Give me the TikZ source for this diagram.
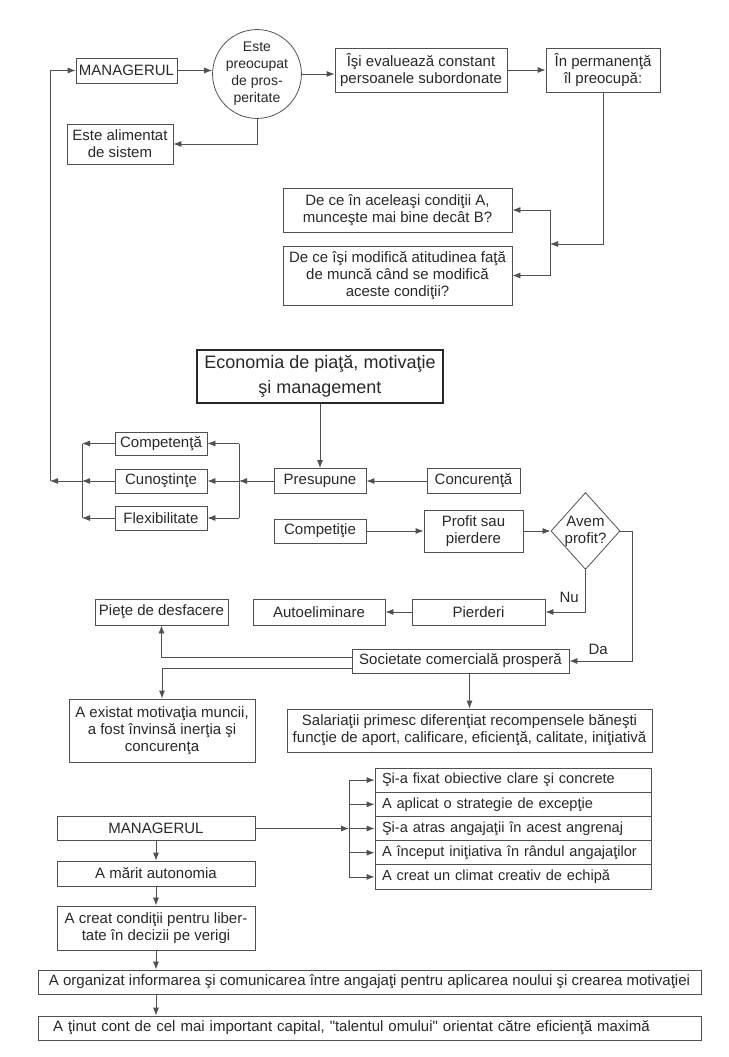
\documentclass[tikz,border=0pt]{standalone}
\usepackage{fontspec}
\setmainfont{Liberation Sans}
\usepackage{tikz}
\usetikzlibrary{shapes.geometric,arrows.meta,positioning,calc}
\usepackage{xcolor}
\definecolor{edge}{RGB}{80,80,80}
\definecolor{ink}{RGB}{40,40,40}
\newcommand{\straightquote}{\XeTeXglyph\XeTeXglyphindex "quotedbl"\relax}

\begin{document}
\begin{tikzpicture}[
    x=1pt, y=-1pt,
    every node/.style={text=ink, font=\fontsize{15pt}{17pt}\selectfont},
    box/.style={rectangle, draw=edge, line width=0.8pt, align=center, inner sep=2pt},
    rowbox/.style={box, align=left, text width=262pt, inner xsep=7pt, inner ysep=0pt, minimum height=24.2pt,
                   font=\fontsize{14.6pt}{17pt}\selectfont},
    arrow/.style={-{Latex[length=8pt,width=6pt]}, draw=edge, line width=0.8pt},
    line/.style={draw=edge, line width=0.8pt}
]
    \useasboundingbox (0,0) rectangle (728,1057);

    \node[box, minimum width=101pt, minimum height=25pt] (mgr1) at (126.5,70.5) {MANAGERUL};
    \node[draw=edge, line width=0.8pt, circle, minimum size=88pt, inner sep=0pt, align=center,
          font=\fontsize{14pt}{17pt}\selectfont] (circ) at (257,74) {Este\\preocupat\\de pros-\\peritate};
    \node[box, minimum width=106pt, minimum height=40pt] (alim) at (120,144) {Este alimentat\\de sistem};
    \node[box, minimum width=172pt, minimum height=44pt] (eval) at (421,70) {Îşi evaluează constant\\persoanele subordonate};
    \node[box, minimum width=114pt, minimum height=44pt] (perm) at (603,70) {În permanenţă\\îl preocupă:};
    \node[box, minimum width=229pt, minimum height=44pt] (q1) at (397.5,210) {De ce în aceleaşi condiţii A,\\munceşte mai bine decât B?};
    \node[box, minimum width=229pt, minimum height=59pt] (q2) at (397.5,275.5) {De ce îşi modifică atitudinea faţă\\de muncă când se modifică\\aceste condiţii?};

    \node[box, draw=ink, line width=2pt, minimum width=246pt, minimum height=53pt,
          font=\fontsize{18pt}{25pt}\selectfont] (title) at (320,376.5) {Economia de piaţă, motivaţie\\şi management};

    \node[box, minimum width=92pt, minimum height=23pt] (comp) at (161,443.5) {Competenţă};
    \node[box, minimum width=92pt, minimum height=24pt] (cuno) at (161,481) {Cunoştinţe};
    \node[box, minimum width=92pt, minimum height=24pt] (flex) at (161,518) {Flexibilitate};
    \node[box, minimum width=92pt, minimum height=25pt] (pres) at (320,481) {Presupune};
    \node[box, minimum width=93pt, minimum height=25pt] (conc) at (473.5,481) {Concurenţă};

    \node[box, minimum width=92pt, minimum height=24pt] (compt) at (320,531) {Competiţie};
    \node[box, minimum width=99pt, minimum height=42pt] (prof) at (473.5,531) {Profit sau\\pierdere};
    \node[draw=edge, line width=0.8pt, diamond, aspect=0.9, inner sep=0pt, minimum width=69pt,
          minimum height=77pt, align=center] (avem) at (585.5,531) {Avem\\profit?};
    \node[box, minimum width=133pt, minimum height=26pt] (pierd) at (478.5,612) {Pierderi};
    \node[box, minimum width=132pt, minimum height=26pt] (auto) at (319,612) {Autoeliminare};
    \node[box, minimum width=133pt, minimum height=26pt] (piete) at (161.5,612) {Pieţe de desfacere};
    \node[box, minimum width=217pt, minimum height=24pt] (soc) at (460.5,661) {Societate comercială prosperă};
    \node[box, minimum width=186pt, minimum height=63pt] (exist) at (162,730.5) {A existat motivaţia muncii,\\a fost învinsă inerţia şi\\concurenţa};
    \node[box, minimum width=365pt, minimum height=43pt] (sal) at (469.5,730.5) {Salariaţii primesc diferenţiat recompensele băneşti\\funcţie de aport, calificare, eficienţă, calitate, iniţiativă};

    \foreach \txt [count=\i] in {Şi-a fixat obiective clare şi concrete, A aplicat o strategie de excepţie,
        Şi-a atras angajaţii în acest angrenaj, A început iniţiativa în rândul angajaţilor,
        A creat un climat creativ de echipă}
        \node[rowbox] (r\i) at (513,{780.1+24.2*(\i-1)}) {\txt};

    \node[box, minimum width=198pt, minimum height=24pt] (mgr2) at (156,828.5) {MANAGERUL};
    \node[box, minimum width=198pt, minimum height=25pt] (marit) at (156,873.5) {A mărit autonomia};
    \node[box, minimum width=198pt, minimum height=44pt] (creat) at (156,928) {A creat condiţii pentru liber-\\tate în decizii pe verigi};
    \node[box, minimum width=663pt, minimum height=24pt] (org) at (369.5,982) {A organizat informarea şi comunicarea între angajaţi pentru aplicarea noului şi crearea motivaţiei};
    \node[box, align=left, text width=633pt, inner xsep=15pt, minimum height=24pt] (tinut) at (369.5,1028) {A ţinut cont de cel mai important capital, \straightquote talentul omului\straightquote{} orientat către eficienţă maximă};

    \coordinate (busR) at (239,481);
    \coordinate (busL) at (82,481);
    \coordinate (loop) at (50,481);
    \coordinate (qbus) at (550,244);
    \coordinate (daturn) at (632,531);
    \coordinate (sbus) at (349,828.5);

    \draw[arrow] (mgr1.east) -- (mgr1.east -| circ.west);
    \draw[arrow] (circ.east) -- (circ.east -| eval.west);
    \draw[arrow] (eval) -- (perm);
    \draw[arrow] (circ.south) |- (alim.east);
    \draw[arrow] (perm.south) |- (qbus);
    \draw[line] (qbus |- q1.east) -- (qbus |- q2.east);
    \draw[arrow] (qbus |- q1.east) -- (q1.east);
    \draw[arrow] (qbus |- q2.east) -- (q2.east);

    \draw[arrow] (title) -- (pres);
    \draw[arrow] (conc) -- (pres);
    \draw[arrow] (pres.west) -- (busR);
    \draw[line] (busR |- comp.east) -- (busR |- flex.east);
    \foreach \n in {comp,cuno,flex}
        \draw[arrow] (busR |- \n.east) -- (\n.east);
    \draw[line] (busL |- comp.west) -- (busL |- flex.west);
    \foreach \n in {comp,cuno,flex}
        \draw[arrow] (\n.west) -- (busL |- \n.west);
    \draw[arrow] (busL) -- (loop);
    \draw[arrow] (loop) |- (mgr1.west);

    \draw[arrow] (compt) -- (prof);
    \draw[arrow] (prof) -- (avem);
    \draw[arrow] (avem.south) |- node[pos=0.33, left=3pt] {Nu} (pierd.east);
    \draw[arrow] (avem.east) -- (daturn) |- node[pos=0.77, above=3pt] {Da} (soc.east);
    \draw[arrow] (pierd) -- (auto);
    \draw[arrow] ([yshift=4pt]soc.west) -| (piete.south);
    \draw[arrow] ([yshift=-7pt]soc.west) -| (exist.north);
    \draw[arrow] (sal.north |- soc.south) -- (sal.north);

    \draw[arrow] (mgr2.east) -- (sbus);
    \draw[line] (sbus |- r1.west) -- (sbus |- r5.west);
    \foreach \i in {1,...,5}
        \draw[arrow] (sbus |- r\i.west) -- (r\i.west);
    \draw[arrow] (mgr2) -- (marit);
    \draw[arrow] (marit) -- (creat);
    \draw[arrow] (creat.south) -- (creat.south |- org.north);
    \draw[arrow] (creat.south |- org.south) -- (creat.south |- tinut.north);
\end{tikzpicture}
\end{document}
